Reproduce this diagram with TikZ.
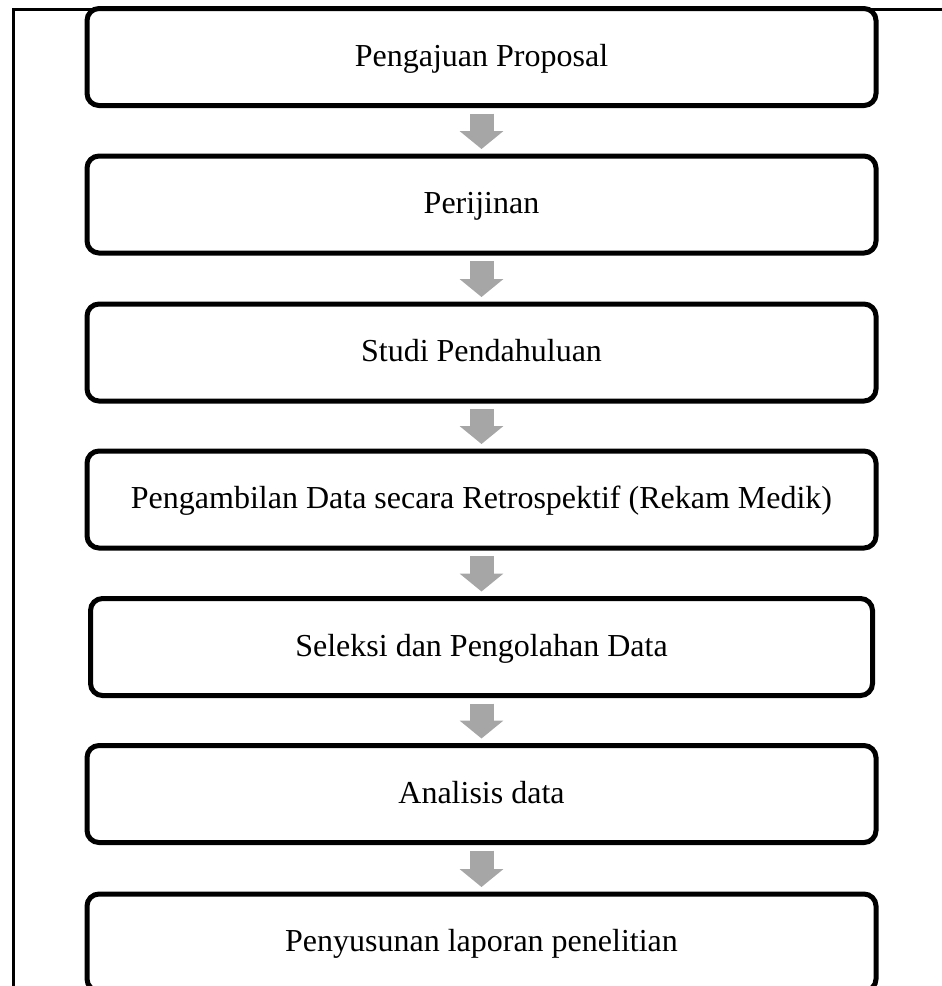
\documentclass[tikz,border=0pt]{standalone}
\usepackage{fontspec}
\setmainfont{Liberation Serif}
\usepackage{xcolor}
\usetikzlibrary{arrows.meta,positioning}
\definecolor{arrowgray}{RGB}{166,166,166}

\begin{document}
\begin{tikzpicture}[x=0.5pt,y=0.5pt,
    stepbox/.style={draw, fill=white, rounded corners=6pt, line width=2.5pt,
        minimum width=394.5pt, minimum height=48.5pt,
        text height=11pt, text depth=2pt,
        font=\fontsize{16}{19}\selectfont},
    blockarrow/.style={draw=arrowgray, line width=12pt,
        -{Triangle[width=21.5pt,length=9pt]},
        shorten <=2.75pt, shorten >=2.25pt}]
    \useasboundingbox (0,0) rectangle (942,-986);
    % table cell border
    \draw[line width=1.5pt] (13.5,-986) -- (13.5,-9.5) -- (942,-9.5);
    % steps
    \node[stepbox] (proposal) at (481.5,-57) {Pengajuan Proposal};
    \node[stepbox] (izin) at (481.5,-204.5) {Perijinan};
    \node[stepbox] (studi) at (481.5,-352.5) {Studi Pendahuluan};
    \node[stepbox] (ambil) at (481.5,-499.5) {Pengambilan Data secara Retrospektif (Rekam Medik)};
    \node[stepbox, minimum width=391pt] (seleksi) at (481.5,-647) {Seleksi dan Pengolahan Data};
    \node[stepbox] (analisis) at (481.5,-794) {Analisis data};
    \node[stepbox] (laporan) at (481.5,-942.5) {Penyusunan laporan penelitian};
    % gray arrows between steps
    \foreach \a/\b in {proposal/izin, izin/studi, studi/ambil, ambil/seleksi, seleksi/analisis, analisis/laporan}
        \draw[blockarrow] (\a.south) -- (\b.north);
\end{tikzpicture}
\end{document}
